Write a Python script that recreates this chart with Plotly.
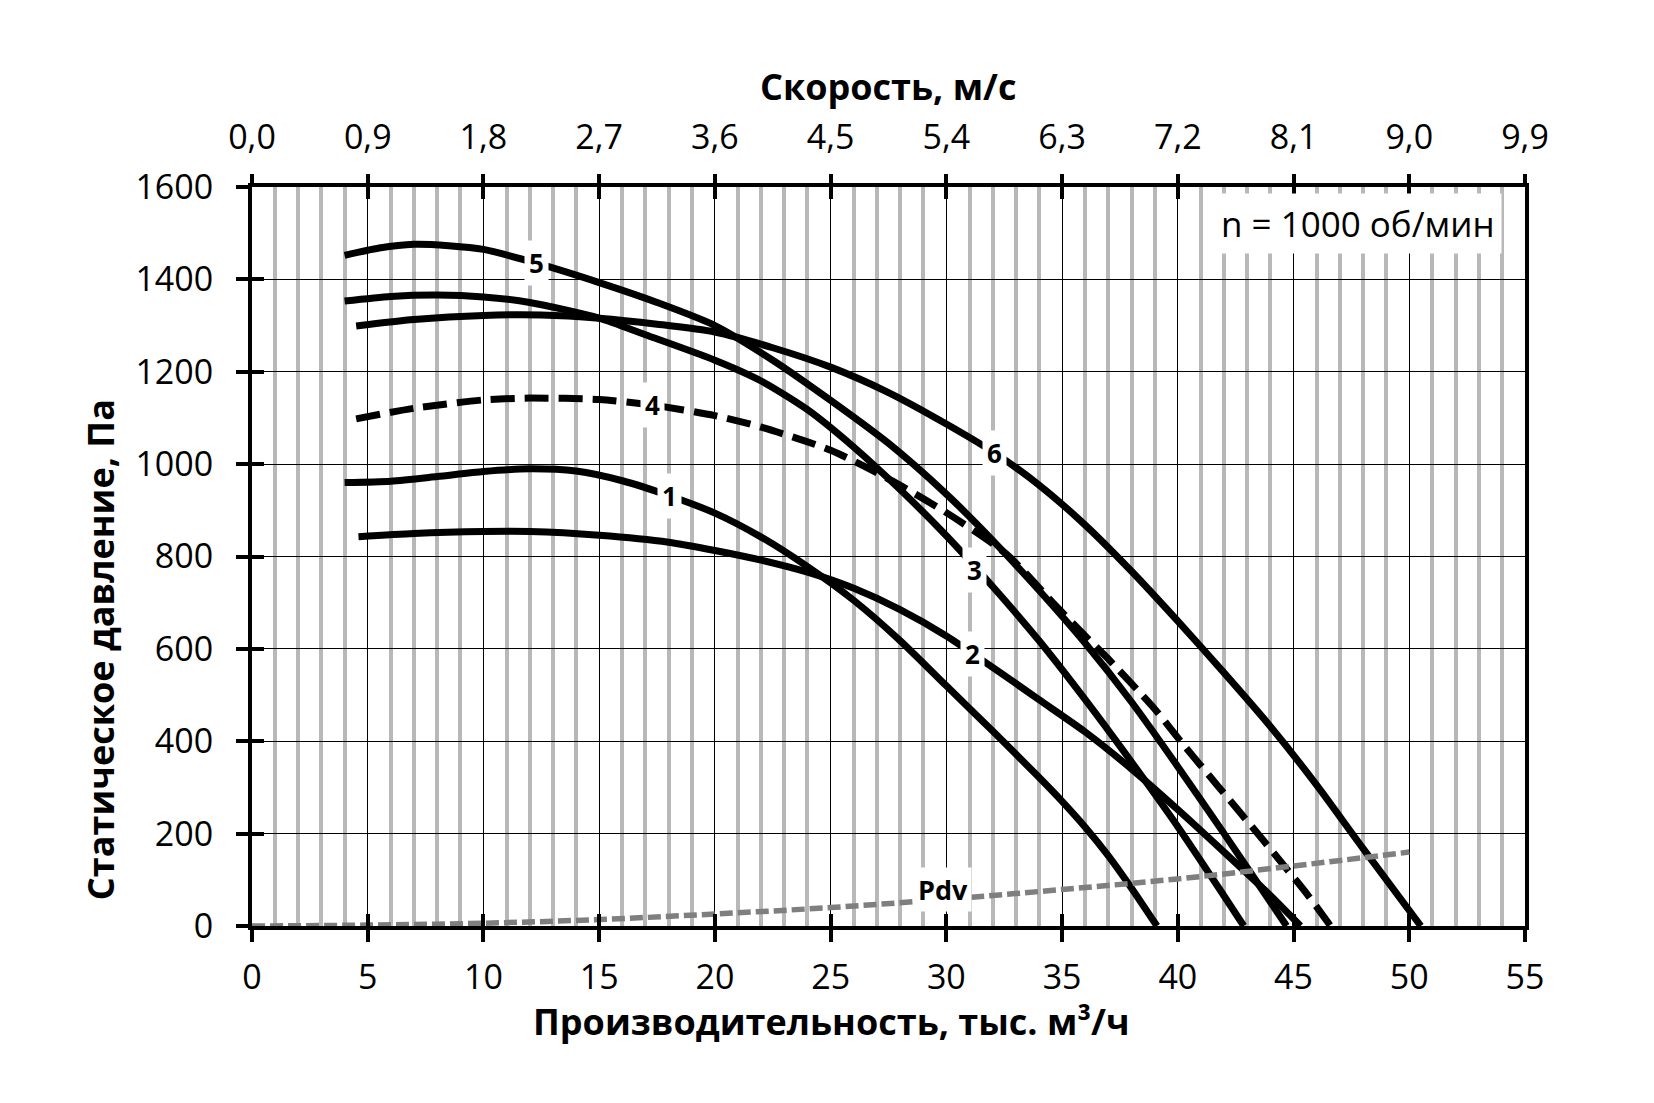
import plotly.graph_objects as go

# Производительность, тыс. м3/ч  ->  статическое давление, Па (кривые 1..6)
x1 = [4.0, 6, 8, 10, 12, 14, 16, 18, 20, 22, 24, 26, 28, 30, 32, 34, 35, 36, 37, 38, 39.1]
p1 = [960, 963, 973, 984, 990, 985, 964, 932, 894, 842, 778, 705, 618, 520, 422, 322, 270, 214, 152, 82, 0]

x2 = [4.6, 7, 10, 12, 15, 18, 20, 22, 24, 26, 28, 30, 32, 34, 36, 38, 40, 42, 44, 45.3]
p2 = [843, 850, 854, 854, 846, 831, 813, 792, 766, 731, 685, 628, 560, 490, 420, 340, 252, 160, 66, 0]

x3 = [4.0, 6, 8, 10, 12, 15, 17, 20, 22, 24, 26, 28, 30, 32, 34, 36, 38, 40, 42, 42.85]
p3 = [1353, 1363, 1366, 1362, 1350, 1316, 1280, 1225, 1180, 1118, 1037, 945, 845, 735, 618, 490, 355, 215, 65, 0]

x4 = [4.5, 7, 10, 12, 15, 17.3, 20, 22, 25, 27.5, 30, 32.6, 34.6, 36, 37, 39, 40.2, 41.7, 42.7, 43.7, 44.6, 45.6, 46.6]
p4 = [1098, 1121, 1139, 1143, 1140, 1128, 1105, 1080, 1030, 968, 895, 805, 700, 628, 578, 470, 395, 305, 245, 185, 130, 68, 0]

x5 = [4.0, 5.5, 7, 8.5, 10, 12.3, 15, 17.5, 20, 22.5, 25, 27.5, 30, 32, 34, 36, 38, 40, 42, 44, 44.7]
p5 = [1452, 1468, 1476, 1473, 1465, 1435, 1393, 1350, 1300, 1225, 1138, 1045, 935, 835, 727, 612, 485, 345, 200, 52, 0]

x6 = [4.5, 7, 10, 12.5, 15, 17.5, 20, 22.5, 25, 27.5, 30, 32, 34, 36, 38, 40, 42, 44, 46, 48, 50.5]
p6 = [1299, 1313, 1322, 1323, 1316, 1303, 1286, 1252, 1210, 1155, 1087, 1027, 955, 868, 768, 660, 548, 432, 305, 168, 0]

# динамическое давление
x_pdv = [0, 5, 10, 15, 20, 25, 30, 35, 40, 45, 50]
p_pdv = [0, 2, 6, 14, 26, 40, 58, 79, 102, 130, 160]

curve_names = ['1', '2', '3', '4', '5', '6']
label_x = [18.05, 31.15, 31.2, 17.3, 12.3, 32.1]
label_y = [930, 588, 770, 1127, 1435, 1025]

speed_ticks = [0.0, 0.9, 1.8, 2.7, 3.6, 4.5, 5.4, 6.3, 7.2, 8.1, 9.0, 9.9]

fig = go.Figure()

curves = [(x1, p1), (x2, p2), (x3, p3), (x4, p4), (x5, p5), (x6, p6)]
for i, (xs, ps) in enumerate(curves):
    fig.add_trace(go.Scatter(
        x=xs, y=ps, mode='lines', name=curve_names[i],
        line=dict(color='black', width=7, shape='spline', smoothing=0.7,
                  dash='24px,10px' if curve_names[i] == '4' else 'solid'),
        hoverinfo='skip'
    ))

fig.add_trace(go.Scatter(
    x=x_pdv, y=p_pdv, mode='lines', name='Pdv',
    line=dict(color='#7f7f7f', width=5.5, shape='spline', dash='13px,5px'),
    hoverinfo='skip'
))

# невидимые точки, чтобы отрисовались дополнительные оси (верхняя шкала и внутренние засечки)
helper = dict(mode='markers', marker=dict(opacity=0), hoverinfo='skip', showlegend=False)
fig.add_trace(go.Scatter(x=[speed_ticks[0], speed_ticks[-1]], y=[0, 0], xaxis='x2', yaxis='y', **helper))
fig.add_trace(go.Scatter(x=[0, 55], y=[0, 0], xaxis='x3', yaxis='y', **helper))
fig.add_trace(go.Scatter(x=[speed_ticks[0], speed_ticks[-1]], y=[0, 0], xaxis='x4', yaxis='y', **helper))
fig.add_trace(go.Scatter(x=[0, 0], y=[0, 1600], xaxis='x', yaxis='y2', **helper))

for i in range(len(curve_names)):
    fig.add_annotation(x=label_x[i], y=label_y[i], text='<b>' + curve_names[i] + '</b>',
                       showarrow=False, bgcolor='white', borderpad=4,
                       font=dict(size=26, color='black'))

fig.add_annotation(x=29.85, y=80, text='<b>Pdv</b>', showarrow=False, bgcolor='white',
                   borderpad=3, font=dict(size=27, color='black'))
fig.add_annotation(x=47.8, y=1520, text='n = 1000 об/мин', showarrow=False, bgcolor='white',
                   borderpad=6, font=dict(size=35, color='black'))

# подписи осей
title_font = dict(size=36, color='black')
title_pos = dict(xref='paper', yref='paper', xanchor='center', yanchor='middle', showarrow=False, font=title_font)
fig.add_annotation(x=0.455, y=-0.1286, text='<b>Производительность, тыс. м³/ч</b>', **title_pos)
fig.add_annotation(x=-0.119, y=0.374, textangle=-90, text='<b>Статическое давление, Па</b>', **title_pos)
fig.add_annotation(x=0.5, y=1.136, text='<b>Скорость, м/с</b>', **title_pos)

tick_style = dict(ticklen=12, tickwidth=4, tickcolor='black')

fig.update_layout(
    width=1654, height=1103,
    margin=dict(l=244, r=137, t=179, b=185),
    plot_bgcolor='white', paper_bgcolor='white',
    font=dict(family='Open Sans', size=34, color='black'),
    separators=', ',
    showlegend=False,
    xaxis=dict(
        range=[0, 55], tickmode='linear', tick0=0, dtick=5,
        ticks='outside', **tick_style,
        showline=True, linewidth=4, linecolor='black', mirror=True,
        showgrid=True, gridcolor='black', gridwidth=1, zeroline=False,
        minor=dict(tick0=0, dtick=1, showgrid=True, gridcolor='#b8b8b8', gridwidth=3.5),
        ticklabelstandoff=6,
    ),
    yaxis=dict(
        range=[0, 1600], tickmode='linear', tick0=0, dtick=200,
        ticks='outside', **tick_style,
        showline=True, linewidth=4, linecolor='black', mirror=True,
        showgrid=True, gridcolor='black', gridwidth=1, zeroline=False,
        ticklabelstandoff=16,
    ),
    xaxis2=dict(
        overlaying='x', side='top', anchor='y', range=[0, 9.9],
        tickmode='array', tickvals=speed_ticks,
        ticktext=[('%.1f' % v).replace('.', ',') for v in speed_ticks],
        ticks='outside', **tick_style, showgrid=False, showline=False, zeroline=False,
        ticklabelstandoff=11,
    ),
    xaxis3=dict(
        overlaying='x', side='bottom', anchor='y', range=[0, 55],
        tickmode='linear', tick0=0, dtick=5, ticks='inside', **tick_style,
        showticklabels=False, showgrid=False, showline=False, zeroline=False,
    ),
    xaxis4=dict(
        overlaying='x', side='top', anchor='y', range=[0, 9.9],
        tickmode='array', tickvals=speed_ticks, ticks='inside', **tick_style,
        showticklabels=False, showgrid=False, showline=False, zeroline=False,
    ),
    yaxis2=dict(
        overlaying='y', side='left', anchor='x', range=[0, 1600],
        tickmode='linear', tick0=0, dtick=200, ticks='inside', **tick_style,
        showticklabels=False, showgrid=False, showline=False, zeroline=False,
    ),
)

fig.write_html("out.html")
